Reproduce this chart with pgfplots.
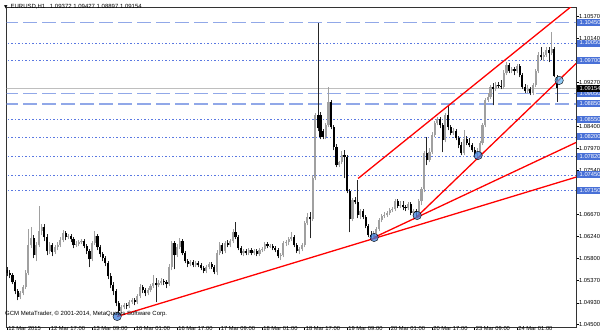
\documentclass[border=0pt]{standalone}
\usepackage{pgfplots}
\pgfplotsset{compat=1.18}
\usepackage{pgfplotstable}
\usepackage{fontspec}
\setmainfont{Liberation Sans}
\newfontfamily\symfont{DejaVu Sans}
\definecolor{bullc}{RGB}{160,160,160}
\definecolor{dotblue}{RGB}{90,120,225}
\definecolor{dashblue}{RGB}{145,168,232}
\definecolor{boxblue}{RGB}{72,112,215}
\definecolor{circblue}{RGB}{60,125,218}
\definecolor{circcyan}{RGB}{95,178,240}
\definecolor{curgray}{RGB}{190,190,190}
\pgfplotstableread{
x o h l c
0 1.05569 1.05629 1.05451 1.05510
1 1.05510 1.05569 1.05412 1.05471
2 1.05471 1.05510 1.05294 1.05333
3 1.05333 1.05372 1.05097 1.05156
4 1.05156 1.05195 1.04978 1.05038
5 1.05038 1.05156 1.04998 1.05116
6 1.05116 1.05274 1.05077 1.05235
7 1.05235 1.05569 1.05195 1.05510
8 1.05510 1.06377 1.05471 1.06062
9 1.06062 1.06417 1.06003 1.06200
10 1.06200 1.06259 1.05806 1.05865
11 1.05865 1.06121 1.05747 1.06062
12 1.06062 1.06830 1.06023 1.06338
13 1.06338 1.06476 1.06259 1.06417
14 1.06417 1.06476 1.06141 1.06220
15 1.06220 1.06279 1.05865 1.05944
16 1.05944 1.06121 1.05885 1.06062
17 1.06062 1.06101 1.05845 1.05924
18 1.05924 1.06062 1.05885 1.06023
19 1.06023 1.06121 1.05963 1.06062
20 1.06062 1.06220 1.06023 1.06160
21 1.06160 1.06357 1.06121 1.06298
22 1.06298 1.06338 1.06160 1.06220
23 1.06220 1.06279 1.06180 1.06239
24 1.06239 1.06279 1.06121 1.06180
25 1.06180 1.06220 1.06003 1.06062
26 1.06062 1.06141 1.06023 1.06082
27 1.06082 1.06160 1.06042 1.06121
28 1.06121 1.06180 1.06082 1.06141
29 1.06141 1.06180 1.06003 1.06042
30 1.06042 1.06082 1.05885 1.05944
31 1.05944 1.05983 1.05629 1.05786
32 1.05786 1.06141 1.05747 1.06101
33 1.06101 1.06338 1.06062 1.06239
34 1.06239 1.06279 1.05963 1.06023
35 1.06023 1.06062 1.05826 1.05885
36 1.05885 1.05924 1.05747 1.05806
37 1.05806 1.05845 1.05648 1.05707
38 1.05707 1.05747 1.05392 1.05451
39 1.05451 1.05510 1.05215 1.05274
40 1.05274 1.05333 1.05077 1.05156
41 1.05156 1.05195 1.04860 1.04919
42 1.04919 1.04959 1.04663 1.04762
43 1.04762 1.04880 1.04722 1.04841
44 1.04841 1.04919 1.04801 1.04880
45 1.04880 1.04919 1.04801 1.04860
46 1.04860 1.04978 1.04821 1.04938
47 1.04938 1.05018 1.04900 1.04978
48 1.04978 1.05018 1.04880 1.04938
49 1.04938 1.05097 1.04900 1.05057
50 1.05057 1.05294 1.05018 1.05235
51 1.05235 1.05274 1.05116 1.05175
52 1.05175 1.05215 1.05057 1.05116
53 1.05116 1.05215 1.05077 1.05175
54 1.05175 1.05294 1.05136 1.05254
55 1.05254 1.05471 1.05215 1.05313
56 1.05313 1.05412 1.04938 1.05274
57 1.05274 1.05372 1.05235 1.05313
58 1.05313 1.05412 1.05274 1.05353
59 1.05353 1.05392 1.05274 1.05333
60 1.05333 1.05372 1.05215 1.05294
61 1.05294 1.05688 1.05254 1.05629
62 1.05629 1.06141 1.05569 1.06101
63 1.06101 1.06141 1.05589 1.05865
64 1.05865 1.06082 1.05826 1.06023
65 1.06023 1.06200 1.05983 1.06141
66 1.06141 1.06180 1.05865 1.05904
67 1.05904 1.05944 1.05707 1.05747
68 1.05747 1.05786 1.05629 1.05688
69 1.05688 1.05766 1.05648 1.05727
70 1.05727 1.05766 1.05629 1.05668
71 1.05668 1.05747 1.05629 1.05707
72 1.05707 1.05747 1.05629 1.05668
73 1.05668 1.05707 1.05569 1.05609
74 1.05609 1.05648 1.05510 1.05550
75 1.05550 1.05668 1.05510 1.05629
76 1.05629 1.05727 1.05589 1.05688
77 1.05688 1.05727 1.05589 1.05629
78 1.05629 1.05668 1.05491 1.05530
79 1.05530 1.05963 1.05471 1.05904
80 1.05904 1.06121 1.05865 1.06062
81 1.06062 1.06101 1.05885 1.05944
82 1.05944 1.06141 1.05904 1.06101
83 1.06101 1.06160 1.06023 1.06062
84 1.06062 1.06180 1.06023 1.06141
85 1.06141 1.06377 1.06101 1.06318
86 1.06318 1.06515 1.06180 1.06220
87 1.06220 1.06259 1.05963 1.06003
88 1.06003 1.06042 1.05865 1.05904
89 1.05904 1.05983 1.05845 1.05944
90 1.05944 1.05983 1.05865 1.05904
91 1.05904 1.06003 1.05865 1.05963
92 1.05963 1.06003 1.05865 1.05904
93 1.05904 1.05983 1.05865 1.05944
94 1.05944 1.05983 1.05845 1.05885
95 1.05885 1.06003 1.05845 1.05963
96 1.05963 1.06023 1.05924 1.05983
97 1.05983 1.06121 1.05944 1.06082
98 1.06082 1.06121 1.06003 1.06042
99 1.06042 1.06082 1.06003 1.06052
100 1.06052 1.06082 1.05963 1.06003
101 1.06003 1.06042 1.05924 1.05963
102 1.05963 1.06003 1.05806 1.05845
103 1.05845 1.05904 1.05766 1.05865
104 1.05865 1.06141 1.05826 1.06101
105 1.06101 1.06160 1.06042 1.06121
106 1.06121 1.06220 1.06062 1.06180
107 1.06180 1.06318 1.06141 1.06220
108 1.06220 1.06259 1.06023 1.06062
109 1.06062 1.06101 1.05904 1.05944
110 1.05944 1.06023 1.05885 1.05983
111 1.05983 1.06101 1.05944 1.06062
112 1.06062 1.06535 1.06023 1.06495
113 1.06495 1.06692 1.06456 1.06614
114 1.06614 1.06712 1.06200 1.06574
115 1.06574 1.07441 1.06535 1.07382
116 1.07382 1.08662 1.07342 1.08623
117 1.08623 1.10450 1.08308 1.08367
118 1.08623 1.08682 1.08150 1.08190
119 1.08308 1.08347 1.08150 1.08190
120 1.08190 1.08465 1.08150 1.08426
121 1.08426 1.09175 1.08387 1.08879
122 1.08879 1.08918 1.08347 1.08387
123 1.08387 1.08426 1.07936 1.07993
124 1.07993 1.08052 1.07599 1.07638
125 1.07638 1.07717 1.07599 1.07697
126 1.07697 1.07917 1.07658 1.07835
127 1.07835 1.07936 1.07382 1.07796
128 1.07796 1.07835 1.07086 1.07126
129 1.07126 1.07165 1.06318 1.06574
130 1.06574 1.06988 1.06535 1.06948
131 1.06948 1.07008 1.06870 1.06909
132 1.06909 1.07342 1.06594 1.06653
133 1.06653 1.06771 1.06574 1.06732
134 1.06732 1.06771 1.06574 1.06614
135 1.06614 1.06653 1.06397 1.06436
136 1.06436 1.06476 1.06220 1.06259
137 1.06259 1.06338 1.06160 1.06220
138 1.06220 1.06338 1.06180 1.06298
139 1.06298 1.06417 1.06259 1.06377
140 1.06377 1.06594 1.06338 1.06554
141 1.06554 1.06673 1.06515 1.06633
142 1.06633 1.06712 1.06594 1.06653
143 1.06653 1.06732 1.06614 1.06692
144 1.06692 1.06791 1.06653 1.06751
145 1.06751 1.06811 1.06712 1.06771
146 1.06771 1.06968 1.06732 1.06929
147 1.06929 1.06968 1.06791 1.06830
148 1.06830 1.06929 1.06791 1.06850
149 1.06850 1.06929 1.06751 1.06811
150 1.06811 1.06850 1.06732 1.06791
151 1.06791 1.06909 1.06751 1.06870
152 1.06870 1.06909 1.06653 1.06692
153 1.06692 1.06771 1.06633 1.06732
154 1.06732 1.06771 1.06614 1.06712
155 1.06712 1.06968 1.06673 1.06929
156 1.06929 1.07205 1.06850 1.07165
157 1.07165 1.07917 1.07106 1.07877
158 1.07877 1.08190 1.07638 1.07736
159 1.07736 1.07973 1.07697 1.07897
160 1.07897 1.08288 1.07856 1.08229
161 1.08229 1.08505 1.08190 1.08465
162 1.08465 1.08584 1.08426 1.08544
163 1.08544 1.08584 1.08367 1.08426
164 1.08426 1.08465 1.07897 1.08130
165 1.08130 1.08662 1.08091 1.08623
166 1.08623 1.08820 1.08328 1.08387
167 1.08387 1.08426 1.08229 1.08268
168 1.08268 1.08367 1.08229 1.08308
169 1.08308 1.08347 1.08130 1.08170
170 1.08170 1.08209 1.07973 1.08032
171 1.08032 1.08091 1.07835 1.07877
172 1.07877 1.08328 1.07835 1.08150
173 1.08150 1.08209 1.08032 1.08072
174 1.08072 1.08170 1.07993 1.08032
175 1.08032 1.08072 1.07897 1.07936
176 1.07936 1.07993 1.07815 1.07856
177 1.07856 1.07973 1.07736 1.07877
178 1.07877 1.08111 1.07835 1.08072
179 1.08072 1.08465 1.08032 1.08426
180 1.08426 1.08958 1.08387 1.08918
181 1.08918 1.09056 1.08879 1.08978
182 1.08978 1.09214 1.08938 1.09175
183 1.09175 1.09254 1.08820 1.09135
184 1.09135 1.09273 1.09096 1.09214
185 1.09214 1.09273 1.09155 1.09194
186 1.09194 1.09312 1.09135 1.09175
187 1.09175 1.09509 1.09135 1.09450
188 1.09450 1.09667 1.09411 1.09608
189 1.09608 1.09647 1.09450 1.09490
190 1.09490 1.09569 1.09450 1.09529
191 1.09529 1.09569 1.09411 1.09490
192 1.09490 1.09627 1.09450 1.09588
193 1.09588 1.09627 1.09372 1.09411
194 1.09411 1.09450 1.09135 1.09175
195 1.09175 1.09233 1.09056 1.09096
196 1.09096 1.09214 1.09056 1.09135
197 1.09135 1.09175 1.09017 1.09056
198 1.09056 1.09254 1.09017 1.09214
199 1.09214 1.09529 1.09175 1.09490
200 1.09490 1.09864 1.09450 1.09805
201 1.09805 1.09963 1.09706 1.09766
202 1.09766 1.09864 1.09687 1.09805
203 1.09805 1.09963 1.09766 1.09903
204 1.09903 1.09963 1.09667 1.09844
205 1.09844 1.10258 1.09805 1.09923
206 1.09923 1.09963 1.09372 1.09392
207 1.09372 1.09427 1.08897 1.09154
}\candles
\begin{document}
\begin{tikzpicture}[x=1pt,y=1pt]
\useasboundingbox (0,0) rectangle (600,333);
\begin{axis}[
  at={(2.5,11)}, anchor=south west,
  width=569.5pt, height=320pt, scale only axis,
  xmin=-0.19, xmax=214.23, ymin=1.04447, ymax=1.10751,
  clip mode=individual,
  axis line style={draw=black!80, line width=0.8pt},
  tick align=outside, major tick length=2.5pt,
  tick style={black, line width=0.6pt},
  xtick pos=left, ytick pos=right, yticklabel pos=right,
  xtick={0,16,...,192},
  xticklabels={12 Mar 2015,12 Mar 17:00,13 Mar 09:00,16 Mar 01:00,16 Mar 17:00,17 Mar 09:00,18 Mar 01:00,18 Mar 17:00,19 Mar 09:00,20 Mar 01:00,20 Mar 17:00,23 Mar 09:00,24 Mar 01:00},
  ytick={1.04500,1.04930,1.05370,1.05800,1.06240,1.06670,1.07540,1.07970,1.08400,1.09270,1.10140,1.10570},
  yticklabels={1.04500,1.04930,1.05370,1.05800,1.06240,1.06670,1.07540,1.07970,1.08400,1.09270,1.10140,1.10570},
  ticklabel style={font=\fontsize{5.8}{7}\selectfont, inner sep=0pt},
  xticklabel style={anchor=north west, xshift=1pt, yshift=4pt},
  yticklabel style={anchor=west, xshift=0.3pt},
]
% horizontal lines
\addplot[curgray, line width=0.7pt, forget plot] coordinates {(-1,1.09154) (216,1.09154)};
\addplot[dashblue, line width=1.2pt, dash pattern=on 14pt off 5pt, forget plot] coordinates {(-1,1.10450) (216,1.10450)};
\addplot[dashblue, line width=1.2pt, dash pattern=on 14pt off 5pt, forget plot] coordinates {(-1,1.09050) (216,1.09050)};
\addplot[dashblue, line width=1.2pt, dash pattern=on 14pt off 5pt, forget plot] coordinates {(-1,1.08850) (216,1.08850)};
\addplot[dotblue, line width=0.8pt, dash pattern=on 1.5pt off 2pt, forget plot] coordinates {(-1,1.10050) (216,1.10050)};
\addplot[dotblue, line width=0.8pt, dash pattern=on 1.5pt off 2pt, forget plot] coordinates {(-1,1.09700) (216,1.09700)};
\addplot[dotblue, line width=0.8pt, dash pattern=on 1.5pt off 2pt, forget plot] coordinates {(-1,1.08550) (216,1.08550)};
\addplot[dotblue, line width=0.8pt, dash pattern=on 1.5pt off 2pt, forget plot] coordinates {(-1,1.08200) (216,1.08200)};
\addplot[dotblue, line width=0.8pt, dash pattern=on 1.5pt off 2pt, forget plot] coordinates {(-1,1.07820) (216,1.07820)};
\addplot[dotblue, line width=0.8pt, dash pattern=on 1.5pt off 2pt, forget plot] coordinates {(-1,1.07450) (216,1.07450)};
\addplot[dotblue, line width=0.8pt, dash pattern=on 1.5pt off 2pt, forget plot] coordinates {(-1,1.07150) (216,1.07150)};
% wicks: grey for all, black over the bearish ones
\addplot[draw=none, mark=none, forget plot,
  error bars/.cd, y dir=plus, y explicit, error mark=none,
  error bar style={draw=bullc, line width=0.75pt}]
  table[x=x, y=l, y error expr=\thisrow{h}-\thisrow{l}] {\candles};
\addplot[draw=none, mark=none, forget plot,
  error bars/.cd, y dir=plus, y explicit, error mark=none,
  error bar style={draw=black!85, line width=0.75pt}]
  table[x=x, y=l, y error expr={(\thisrow{h}-\thisrow{l})*max(\thisrow{o}-\thisrow{c},0)/(abs(\thisrow{o}-\thisrow{c})+0.0000001)}] {\candles};
% bull bodies
\addplot[draw=none, mark=none, forget plot,
  error bars/.cd, y dir=plus, y explicit, error mark=none,
  error bar style={draw=bullc, line width=2.15pt}]
  table[x=x, y=o, y error expr={max(\thisrow{c}-\thisrow{o},0)}] {\candles};
% bear bodies
\addplot[draw=none, mark=none, forget plot,
  error bars/.cd, y dir=plus, y explicit, error mark=none,
  error bar style={draw=black, line width=2.15pt}]
  table[x=x, y=c, y error expr={max(\thisrow{o}-\thisrow{c},0)}] {\candles};
% trend lines
\addplot[red, line width=1.3pt, forget plot] coordinates {(41.42,1.04663) (214.23,1.07408)};
\addplot[red, line width=1.3pt, forget plot] coordinates {(138.18,1.06220) (214.23,1.08091)};
\addplot[red, line width=1.3pt, forget plot] coordinates {(154.37,1.06633) (214.23,1.09647)};
\addplot[red, line width=1.3pt, forget plot] coordinates {(132.15,1.07382) (214.23,1.10846)};
% circles
\addplot[only marks, mark=*, mark size=4.2pt, mark options={draw=none, fill=circblue, fill opacity=0.75}, forget plot]
  coordinates {(41.42,1.04663) (138.18,1.06220) (154.37,1.06653) (177.33,1.07835)};
\addplot[only marks, mark=*, mark size=4.2pt, mark options={draw=none, fill=circcyan, fill opacity=0.7}, forget plot]
  coordinates {(207.83,1.09313)};
% boxed price labels
\tikzset{boxlbl/.style={fill=boxblue, text=white, font=\fontsize{5.8}{7}\selectfont, inner sep=0pt, minimum width=26pt, minimum height=7pt, anchor=west, xshift=0.8pt}}
\node[boxlbl] at (axis cs:214.23,1.10450) {1.10450};
\node[boxlbl] at (axis cs:214.23,1.10050) {1.10050};
\node[boxlbl] at (axis cs:214.23,1.09700) {1.09700};
\node[boxlbl] at (axis cs:214.23,1.09050) {1.09050};
\node[boxlbl] at (axis cs:214.23,1.08850) {1.08850};
\node[boxlbl] at (axis cs:214.23,1.08550) {1.08550};
\node[boxlbl] at (axis cs:214.23,1.08200) {1.08200};
\node[boxlbl] at (axis cs:214.23,1.07820) {1.07820};
\node[boxlbl] at (axis cs:214.23,1.07450) {1.07450};
\node[boxlbl] at (axis cs:214.23,1.07150) {1.07150};
\node[boxlbl, fill=black] at (axis cs:214.23,1.09154) {1.09154};
\end{axis}
\node[anchor=west, inner sep=0pt, font=\fontsize{6}{7}\selectfont] at (4,326)
  {{\symfont\fontsize{4.5}{5}\selectfont ▼}\hspace{3pt}EURUSD,H1\hspace{3pt} 1.09372 1.09427 1.08897 1.09154};
\node[anchor=west, inner sep=0pt, font=\fontsize{6}{7}\selectfont] at (5,19)
  {GCM MetaTrader, © 2001-2014, MetaQuotes Software Corp.};
\end{tikzpicture}
\end{document}
